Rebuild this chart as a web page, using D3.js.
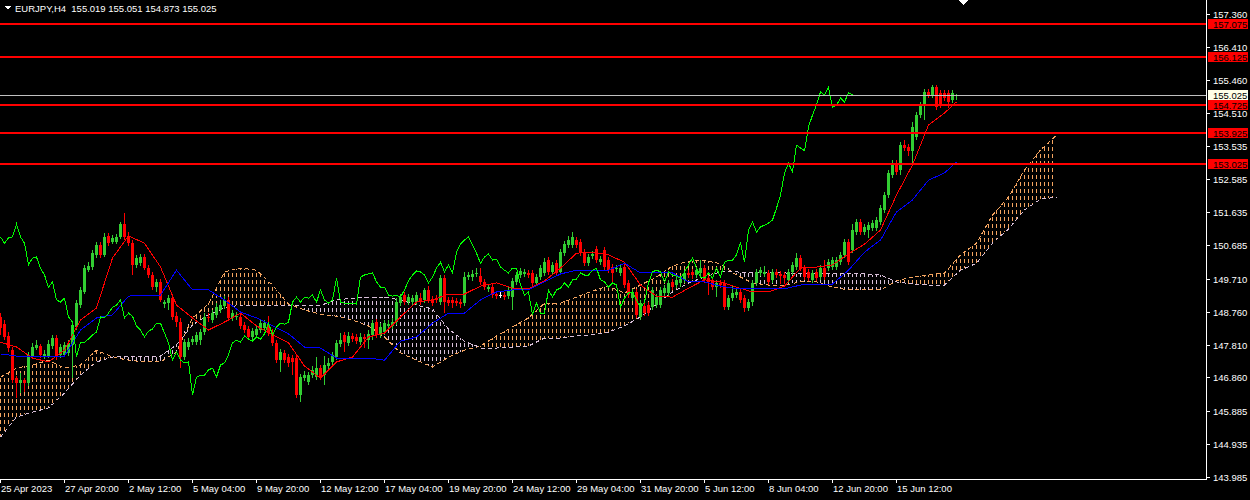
<!DOCTYPE html>
<html>
<head>
<meta charset="utf-8">
<script src="https://cdn.jsdelivr.net/npm/d3@7"></script>
<style>
  html, body { margin: 0; padding: 0; background: #000; overflow: hidden; }
  text { font-family: "Liberation Sans", Arial, sans-serif; font-size: 9.5px; }
</style>
</head>
<body>
<svg id="chart" width="1250" height="500"></svg>
<script>
// EURJPY H4 candles
const symbol = "EURJPY,H4";

const opens = [
  148.61, 148.40, 148.06, 147.65, 146.84, 146.70, 146.79, 146.70, 147.48, 147.71,
  147.77, 147.48, 147.48, 147.77, 148.00, 147.51, 147.51, 147.57, 147.80, 148.32,
  148.95, 149.33, 149.96, 150.05, 150.40, 150.69, 150.40, 150.95, 150.77, 150.77,
  150.92, 151.29, 150.95, 150.74, 150.11, 150.16, 150.34, 150.02, 149.82, 149.47,
  149.62, 148.98, 149.01, 149.15, 148.63, 148.46, 147.45, 147.74, 147.88, 147.88,
  147.94, 148.17, 148.61, 148.52, 148.67, 148.81, 148.92, 149.10, 148.58, 148.61,
  148.61, 148.38, 148.26, 148.03, 148.09, 148.23, 148.29, 148.40, 148.17, 147.86,
  147.36, 147.57, 147.45, 147.42, 147.42, 146.35, 146.84, 146.73, 146.93, 146.87,
  147.13, 146.93, 147.19, 147.31, 147.45, 147.83, 148.09, 147.86, 148.06, 148.03,
  147.88, 148.03, 147.94, 148.09, 148.46, 148.09, 148.17, 148.35, 148.35, 148.46,
  149.01, 149.24, 149.04, 149.04, 149.04, 149.15, 149.10, 149.39, 149.13, 149.15,
  149.04, 149.73, 149.10, 149.10, 149.07, 149.04, 149.01, 149.76, 149.76, 149.85,
  149.79, 149.62, 149.42, 149.47, 149.27, 149.24, 149.24, 149.21, 149.18, 149.62,
  149.82, 149.85, 149.88, 149.88, 149.59, 149.76, 149.88, 150.25, 149.91, 150.16,
  149.91, 150.45, 150.69, 150.69, 150.83, 150.77, 150.48, 150.16, 150.37, 150.57,
  150.19, 150.54, 150.25, 150.05, 149.99, 149.88, 150.05, 149.59, 149.15, 149.33,
  148.61, 148.92, 148.95, 148.89, 148.95, 148.95, 149.30, 149.30, 149.62, 149.53,
  149.59, 149.68, 149.88, 149.91, 149.82, 149.88, 150.02, 149.73, 149.68, 149.47,
  149.59, 149.59, 148.89, 149.15, 149.24, 149.33, 149.15, 148.87, 149.04, 149.59,
  149.88, 149.85, 149.88, 149.68, 149.91, 149.85, 149.82, 149.68, 149.91, 150.05,
  150.31, 150.02, 149.91, 149.68, 149.91, 149.76, 150.02, 150.02, 150.05, 150.05,
  150.19, 150.40, 150.77, 150.54, 151.06, 151.35, 151.06, 151.12, 151.18, 151.18,
  151.35, 151.70, 152.13, 152.71, 153.05, 152.85, 153.57, 153.52, 153.41, 153.81,
  154.44, 154.73, 155.11, 155.02, 155.25, 155.08, 155.08, 155.08, 154.88, 155.019
];

const highs = [
  148.72, 148.52, 148.17, 147.74, 146.90, 146.99, 146.84, 147.60, 147.86, 147.94,
  147.83, 147.65, 147.94, 148.09, 148.09, 147.83, 147.88, 147.94, 148.46, 149.10,
  149.47, 150.11, 150.19, 150.54, 150.77, 150.77, 151.03, 151.03, 150.97, 151.00,
  151.35, 151.61, 151.06, 150.83, 150.40, 150.43, 150.43, 150.11, 149.91, 149.70,
  149.70, 149.10, 149.24, 149.24, 148.75, 148.58, 147.97, 148.00, 148.06, 148.17,
  148.26, 148.72, 148.72, 148.81, 149.01, 149.10, 149.21, 149.18, 148.81, 148.75,
  148.69, 148.46, 148.35, 148.29, 148.35, 148.52, 148.52, 148.63, 148.26, 147.94,
  147.68, 147.65, 147.54, 147.51, 147.51, 146.96, 147.05, 147.02, 147.19, 147.45,
  147.22, 147.48, 147.42, 147.60, 147.94, 148.14, 148.17, 148.17, 148.14, 148.12,
  148.14, 148.12, 148.23, 148.52, 148.55, 148.43, 148.52, 148.52, 148.58, 149.15,
  149.27, 149.33, 149.27, 149.24, 149.33, 149.30, 149.44, 149.50, 149.21, 149.24,
  149.82, 149.82, 149.18, 149.18, 149.15, 149.13, 149.91, 149.91, 149.96, 150.02,
  150.02, 149.70, 149.56, 149.56, 149.36, 149.33, 149.33, 149.47, 149.73, 149.91,
  150.02, 149.99, 149.96, 149.96, 149.85, 150.11, 150.31, 150.34, 150.19, 150.25,
  150.57, 150.80, 150.95, 151.06, 150.92, 150.86, 150.57, 150.43, 150.51, 150.66,
  150.37, 150.63, 150.34, 150.14, 150.11, 150.11, 150.14, 149.68, 149.42, 149.42,
  149.10, 149.01, 149.04, 149.47, 149.27, 149.47, 149.53, 149.68, 149.70, 149.76,
  149.79, 149.96, 149.96, 149.99, 150.05, 150.25, 150.11, 149.82, 149.76, 149.68,
  149.68, 149.68, 149.24, 149.53, 149.42, 149.42, 149.24, 149.13, 149.68, 149.99,
  150.05, 150.08, 149.96, 149.99, 149.99, 149.94, 149.91, 149.99, 150.19, 150.45,
  150.40, 150.11, 149.99, 149.96, 149.99, 150.11, 150.25, 150.28, 150.34, 150.34,
  150.48, 150.86, 150.86, 151.29, 151.44, 151.44, 151.29, 151.35, 151.41, 151.50,
  151.84, 152.22, 152.85, 153.14, 153.14, 153.66, 153.72, 153.60, 154.25, 154.53,
  154.82, 155.19, 155.19, 155.31, 155.31, 155.16, 155.16, 155.16, 155.16, 155.051
];

const lows = [
  148.09, 147.94, 147.60, 146.70, 146.27, 146.41, 146.44, 146.61, 147.39, 147.65,
  147.42, 147.39, 147.42, 147.68, 147.36, 147.42, 147.45, 147.48, 146.84, 148.23,
  148.87, 149.27, 149.91, 149.96, 150.31, 150.31, 150.34, 150.66, 150.72, 150.72,
  150.86, 150.83, 150.66, 149.82, 150.02, 150.08, 149.96, 149.73, 149.39, 149.33,
  149.04, 148.87, 148.81, 148.52, 148.32, 147.13, 147.36, 147.65, 147.80, 147.80,
  147.80, 148.09, 148.46, 148.43, 148.58, 148.72, 148.84, 148.49, 148.49, 148.52,
  148.26, 148.14, 147.94, 147.94, 148.00, 148.14, 148.20, 148.06, 147.77, 147.28,
  147.02, 147.28, 147.16, 146.93, 146.27, 146.15, 146.76, 146.64, 146.84, 146.79,
  146.79, 146.64, 147.10, 147.22, 147.36, 147.74, 147.60, 147.77, 147.88, 147.83,
  147.80, 147.71, 147.68, 147.94, 148.00, 148.00, 148.09, 148.26, 148.26, 148.38,
  148.92, 148.95, 148.95, 148.92, 148.95, 148.95, 149.01, 149.01, 148.92, 149.01,
  148.95, 148.72, 148.92, 148.87, 148.92, 148.87, 148.92, 149.68, 149.65, 149.76,
  149.53, 149.39, 149.33, 149.15, 149.13, 149.15, 149.10, 149.13, 148.81, 149.53,
  149.73, 149.76, 149.73, 149.50, 149.50, 149.68, 149.79, 149.82, 149.82, 149.79,
  149.82, 150.37, 150.60, 150.60, 150.60, 150.37, 150.08, 150.08, 150.28, 150.16,
  150.11, 149.96, 149.88, 149.59, 149.91, 149.79, 149.44, 149.15, 149.07, 148.58,
  148.52, 148.63, 148.63, 148.81, 148.87, 148.87, 149.21, 149.21, 149.39, 149.44,
  149.47, 149.59, 149.73, 149.70, 149.73, 149.79, 149.59, 149.24, 149.39, 149.18,
  149.44, 148.81, 148.81, 149.07, 149.15, 149.01, 148.75, 148.78, 148.92, 149.50,
  149.79, 149.76, 149.53, 149.59, 149.73, 149.56, 149.56, 149.59, 149.82, 149.96,
  149.94, 149.68, 149.65, 149.59, 149.65, 149.68, 149.68, 149.94, 149.96, 149.96,
  150.11, 150.31, 150.11, 150.45, 150.97, 150.97, 150.97, 150.89, 151.09, 151.09,
  151.26, 151.61, 152.04, 152.62, 152.71, 152.71, 153.40, 153.26, 153.06, 153.72,
  154.35, 154.30, 154.93, 154.93, 154.59, 154.64, 154.85, 154.64, 154.79, 154.873
];

const closes = [
  148.29, 148.03, 147.71, 146.79, 146.70, 146.79, 146.70, 147.51, 147.74, 147.80,
  147.51, 147.54, 147.83, 148.00, 147.45, 147.74, 147.80, 147.86, 148.38, 149.01,
  149.39, 150.02, 150.08, 150.45, 150.69, 150.40, 150.92, 150.74, 150.89, 150.92,
  151.29, 150.92, 150.74, 150.11, 150.31, 150.34, 150.02, 149.82, 149.47, 149.62,
  149.10, 149.04, 149.15, 148.61, 148.46, 147.45, 147.88, 147.88, 147.97, 148.09,
  148.17, 148.61, 148.58, 148.72, 148.89, 148.95, 149.10, 148.58, 148.72, 148.63,
  148.35, 148.23, 148.03, 148.20, 148.26, 148.43, 148.43, 148.14, 147.86, 147.36,
  147.60, 147.36, 147.28, 147.31, 146.35, 146.87, 146.93, 146.93, 147.08, 147.13,
  146.87, 147.22, 147.28, 147.51, 147.86, 147.94, 147.88, 148.06, 147.97, 147.91,
  148.03, 147.97, 148.12, 148.43, 148.09, 148.32, 148.43, 148.40, 148.46, 149.04,
  149.18, 149.04, 149.18, 149.15, 149.24, 149.04, 149.39, 149.10, 149.01, 149.10,
  149.73, 149.04, 149.01, 149.01, 149.01, 148.98, 149.76, 149.82, 149.85, 149.88,
  149.62, 149.47, 149.47, 149.24, 149.21, 149.24, 149.18, 149.39, 149.65, 149.82,
  149.94, 149.91, 149.82, 149.59, 149.76, 150.02, 150.19, 149.91, 150.11, 149.88,
  150.48, 150.71, 150.83, 150.92, 150.69, 150.45, 150.16, 150.34, 150.43, 150.25,
  150.28, 150.05, 149.96, 149.88, 150.02, 150.02, 149.53, 149.24, 149.33, 148.67,
  149.01, 148.72, 148.72, 149.39, 149.18, 149.39, 149.44, 149.59, 149.47, 149.68,
  149.70, 149.88, 149.82, 149.82, 149.96, 150.02, 149.68, 149.62, 149.47, 149.59,
  149.53, 148.89, 149.15, 149.30, 149.33, 149.10, 148.87, 149.04, 149.59, 149.91,
  149.96, 149.91, 149.62, 149.91, 149.82, 149.79, 149.73, 149.91, 150.11, 150.31,
  150.02, 149.76, 149.73, 149.88, 149.73, 150.02, 149.76, 150.19, 150.25, 150.25,
  150.40, 150.77, 150.19, 151.12, 151.35, 151.06, 151.21, 151.26, 151.32, 151.41,
  151.75, 152.13, 152.77, 153.05, 152.80, 153.57, 153.49, 153.41, 154.10, 154.44,
  154.73, 155.11, 155.02, 155.25, 154.67, 154.73, 154.93, 154.82, 155.08, 155.025
];

// Ichimoku lines, read every 4th bar (last value = last bar)
const tenkan = [
  147.88, 147.74, 147.42, 147.31, 147.65, 148.52, 148.87, 150.31, 150.95, 150.74,
  150.05, 148.95, 148.58, 148.23, 148.46, 148.72, 148.35, 148.09, 147.86, 147.19,
  146.84, 147.31, 147.45, 148.03, 148.14, 148.61, 149.04, 149.10, 149.27, 149.27,
  149.50, 149.59, 149.44, 149.42, 149.65, 150.02, 150.45, 150.48, 150.40, 150.19,
  149.53, 149.21, 149.18, 149.44, 149.68, 149.62, 149.47, 149.33, 149.33, 149.50,
  150.02, 150.05, 150.11, 150.43, 150.71, 151.12, 152.13, 153.00, 154.15, 154.50,
  154.82
];
const kijun = [
  147.54, 147.48, 147.48, 147.48, 147.48, 148.23, 148.58, 148.67, 149.21, 149.24,
  149.24, 149.96, 149.39, 149.39, 149.10, 148.75, 148.58, 148.35, 148.12, 147.74,
  147.71, 147.42, 147.42, 147.42, 147.36, 147.91, 148.03, 148.43, 148.72, 148.72,
  149.10, 149.33, 149.39, 149.39, 149.62, 149.85, 149.96, 149.96, 149.96, 150.16,
  149.88, 149.88, 149.88, 149.62, 149.62, 149.50, 149.42, 149.42, 149.42, 149.42,
  149.53, 149.56, 149.56, 149.96, 150.48, 150.83, 151.64, 151.99, 152.56, 152.77,
  153.08
];
// cloud spans, every 4th bar, running 26 bars past the last candle
const spanA = [
  146.87, 147.13, 147.22, 147.36, 147.13, 147.22, 147.65, 147.45, 147.36, 147.31,
  147.31, 147.60, 148.58, 148.98, 149.91, 150.02, 149.96, 149.53, 148.98, 148.81,
  148.69, 148.63, 148.52, 148.35, 148.03, 147.57, 147.36, 147.16, 147.45, 147.65,
  147.77, 148.06, 148.32, 148.58, 149.01, 149.01, 149.18, 149.36, 149.50, 149.30,
  149.53, 149.76, 150.08, 150.22, 150.25, 150.14, 149.82, 149.59, 149.53, 149.53,
  149.62, 149.62, 149.47, 149.39, 149.39, 149.39, 149.65, 149.76, 149.82, 149.88,
  150.40, 150.74, 151.55, 152.07, 152.85, 153.43, 153.86
];
const spanB = [
  145.14, 145.72, 145.86, 145.98, 146.41, 146.93, 147.31, 147.45, 147.48, 147.48,
  147.48, 147.80, 148.38, 148.67, 148.87, 148.95, 148.95, 148.95, 148.95, 148.95,
  148.95, 149.10, 149.15, 149.18, 149.18, 149.10, 148.95, 148.84, 148.26, 147.91,
  147.71, 147.71, 147.74, 147.77, 148.00, 148.00, 148.06, 148.09, 148.17, 148.35,
  148.61, 148.98, 149.33, 149.59, 149.76, 149.91, 149.91, 149.88, 149.88, 149.88,
  149.85, 149.85, 149.85, 149.85, 149.85, 149.82, 149.62, 149.56, 149.53, 149.53,
  149.96, 150.16, 150.74, 151.15, 151.70, 152.01, 152.07
];

const levels = [157.075, 156.125, 154.725, 153.925, 153.025];
const priceTicks = [157.360, 156.410, 155.460, 154.510, 153.535, 152.585, 151.635, 150.685,
  149.710, 148.760, 147.810, 146.860, 145.885, 144.935, 143.985];
const timeLabels = ["25 Apr 2023", "27 Apr 20:00", "2 May 12:00", "5 May 04:00", "9 May 20:00",
  "12 May 12:00", "17 May 04:00", "19 May 20:00", "24 May 12:00", "29 May 04:00",
  "31 May 20:00", "5 Jun 12:00", "8 Jun 04:00", "12 Jun 20:00", "15 Jun 12:00"];

const plotW = 1206, plotH = 479;
const svg = d3.select("#chart").attr("shape-rendering", "crispEdges");
svg.append("rect").attr("width", 1250).attr("height", 500).attr("fill", "#000");

const x = d3.scaleLinear().domain([0, 265]).range([0, 1060]);
const y = d3.scaleLinear().domain([143.985, 157.36]).range([477, 14]);

const defs = svg.append("defs");
defs.append("clipPath").attr("id", "plot")
  .append("rect").attr("width", plotW).attr("height", plotH);

// dotted histogram look of the cloud
[["hatchUp", "#f4a460"], ["hatchDn", "#d8bfd8"]].forEach(([id, col]) => {
  const p = defs.append("pattern").attr("id", id)
    .attr("patternUnits", "userSpaceOnUse").attr("width", 4).attr("height", 7);
  p.append("rect").attr("width", 1).attr("height", 4).attr("fill", col);
});

const g = svg.append("g").attr("clip-path", "url(#plot)");

const cloud = spanA.map((a, k) => ({ bar: k * 4, a: a, b: spanB[k] }));
g.append("path").datum(cloud).attr("fill", "url(#hatchUp)")
  .attr("d", d3.area().x(d => x(d.bar)).y0(d => y(d.b)).y1(d => y(Math.max(d.a, d.b))));
g.append("path").datum(cloud).attr("fill", "url(#hatchDn)")
  .attr("d", d3.area().x(d => x(d.bar)).y0(d => y(d.a)).y1(d => y(Math.max(d.a, d.b))));

g.append("path").datum(cloud).attr("fill", "none")
  .attr("stroke", "#f4a460").attr("stroke-dasharray", "4,3")
  .attr("d", d3.line().x(d => x(d.bar) + 0.5).y(d => y(d.a)));
g.append("path").datum(cloud).attr("fill", "none")
  .attr("stroke", "#d8bfd8").attr("stroke-dasharray", "4,3")
  .attr("d", d3.line().x(d => x(d.bar) + 0.5).y(d => y(d.b)));

// candles
const bars = closes.map((c, i) => ({ i: i, o: opens[i], h: highs[i], l: lows[i], c: c }));
const colorOf = d => d.c > d.o ? "#32cd32" : (d.c < d.o ? "#ff0000" : "#ffffff");
const candle = g.append("g").selectAll("g").data(bars).join("g");
candle.append("line")
  .attr("x1", d => x(d.i) + 0.5).attr("x2", d => x(d.i) + 0.5)
  .attr("y1", d => y(d.h)).attr("y2", d => y(d.l))
  .attr("stroke", colorOf);
candle.append("rect")
  .attr("x", d => x(d.i) - 1).attr("width", 3)
  .attr("y", d => y(Math.max(d.o, d.c)))
  .attr("height", d => Math.max(1, Math.abs(y(d.o) - y(d.c))))
  .attr("fill", colorOf);

// indicator lines
const lineBars = d3.range(0, closes.length, 4).concat([closes.length - 1]);
const indLine = d3.line().x(d => x(d[0]) + 0.5).y(d => y(d[1]));
g.append("path").datum(tenkan.map((v, k) => [lineBars[k], v]))
  .attr("fill", "none").attr("stroke", "#ff0000").attr("d", indLine);
g.append("path").datum(kijun.map((v, k) => [lineBars[k], v]))
  .attr("fill", "none").attr("stroke", "#0000ff").attr("d", indLine);
// chikou = close plotted 26 bars back
g.append("path").datum(closes.slice(26).map((c, i) => [i, c]))
  .attr("fill", "none").attr("stroke", "#00ff00").attr("d", indLine);

// horizontal levels and bid line
const last = bars[bars.length - 1];
levels.forEach(v => {
  svg.append("line").attr("x1", 0).attr("x2", plotW).attr("y1", y(v)).attr("y2", y(v))
    .attr("stroke", "#ff0000").attr("stroke-width", 2);
});
svg.append("line").attr("x1", 0).attr("x2", plotW)
  .attr("y1", Math.round(y(last.c)) + 0.5).attr("y2", Math.round(y(last.c)) + 0.5)
  .attr("stroke", "#c0c0c0");

// axes
svg.append("line").attr("x1", plotW + 0.5).attr("x2", plotW + 0.5).attr("y1", 0).attr("y2", plotH + 0.5)
  .attr("stroke", "#ffffff");
svg.append("line").attr("x1", 0).attr("x2", plotW + 0.5).attr("y1", plotH + 0.5).attr("y2", plotH + 0.5)
  .attr("stroke", "#ffffff");

priceTicks.forEach(v => {
  const yy = Math.round(y(v)) + 0.5;
  svg.append("line").attr("x1", plotW).attr("x2", plotW + 4).attr("y1", yy).attr("y2", yy)
    .attr("stroke", "#ffffff");
  svg.append("text").attr("x", 1213).attr("y", yy + 3.5).attr("fill", "#ffffff")
    .text(v.toFixed(3));
});

timeLabels.forEach((t, k) => {
  const xx = x(k * 16) + 0.5;
  svg.append("line").attr("x1", xx).attr("x2", xx).attr("y1", plotH).attr("y2", plotH + 4)
    .attr("stroke", "#ffffff");
  svg.append("text").attr("x", xx + 0.5).attr("y", 492).attr("fill", "#ffffff").text(t);
});

// price boxes on the right
function priceBox(v, fill) {
  const yy = Math.round(y(v));
  svg.append("rect").attr("x", 1208).attr("y", yy - 5).attr("width", 40).attr("height", 10)
    .attr("fill", fill);
  svg.append("text").attr("x", 1213).attr("y", yy + 3.5).attr("fill", "#000000").text(v.toFixed(3));
}
levels.forEach(v => priceBox(v, "#ff0000"));
priceBox(last.c, "#ffffe8");

// title + markers
svg.append("path").attr("d", "M5,6 L11,6 L8,10 Z").attr("fill", "#ffffff");
svg.append("text").attr("x", 15).attr("y", 12).attr("fill", "#ffffff").style("white-space", "pre")
  .text(symbol + "  " + [last.o, last.h, last.l, last.c].map(v => v.toFixed(3)).join(" "));
svg.append("path").attr("d", "M958,0 L969,0 L963.5,5 Z").attr("fill", "#ffffff");
</script>
</body>
</html>
